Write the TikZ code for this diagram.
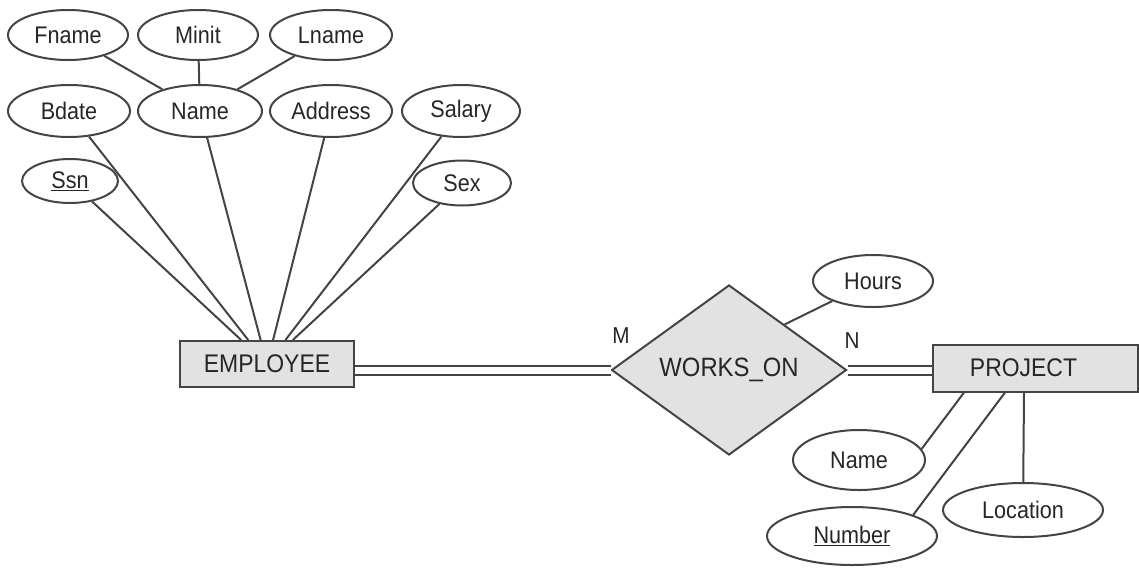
\documentclass[tikz,border=0pt]{standalone}
\usepackage{fontspec}
\setmainfont{Liberation Sans}
\newfontfamily\erfont[FakeStretch=0.9]{Liberation Sans}
\usetikzlibrary{shapes.geometric,calc}
\definecolor{ln}{HTML}{444444}
\definecolor{fillg}{HTML}{E2E2E2}
\definecolor{tx}{HTML}{262626}
\begin{document}
\begin{tikzpicture}[x=1pt,y=-1pt,
  attr/.style={ellipse,draw=ln,line width=2pt,inner sep=0pt,text=tx,font=\erfont\fontsize{24}{28}\selectfont},
  ent/.style={rectangle,draw=ln,fill=fillg,line width=2pt,inner sep=0pt,text=tx,font=\erfont\fontsize{25.5}{29}\selectfont},
  rel/.style={diamond,draw=ln,fill=fillg,line width=2pt,inner sep=0pt,aspect=1.38,text=tx,font=\erfont\fontsize{26.5}{30}\selectfont},
  conn/.style={draw=ln,line width=2pt},
  dbl/.style={draw=ln,line width=2pt,double=white,double distance=7pt},
  card/.style={font=\erfont\fontsize{23}{27}\selectfont,text=tx}]
\useasboundingbox (0,0) rectangle (1139,568);
% attributes of EMPLOYEE
\node[attr,minimum width=120,minimum height=50] (fname) at (68,35) {Fname};
\node[attr,minimum width=120,minimum height=50] (minit) at (198,35) {Minit};
\node[attr,minimum width=122,minimum height=50] (lname) at (331,35) {Lname};
\node[attr,minimum width=122,minimum height=52] (bdate) at (69,111) {Bdate};
\node[attr,minimum width=124,minimum height=52] (ename) at (200,111) {Name};
\node[attr,minimum width=122,minimum height=52] (address) at (331,111) {Address};
\node[attr,minimum width=118,minimum height=52] (salary) at (461,111) {Salary};
\node[attr,minimum width=96,minimum height=44] (ssn) at (70,181) {\underline{Ssn}};
\node[attr,minimum width=98,minimum height=45] (sex) at (462,183) {Sex};
% entities and relationship
\node[ent,minimum width=174,minimum height=46] (emp) at (267,364) {EMPLOYEE};
\node[rel,minimum width=235,minimum height=170] (works) at (729,370) {WORKS\_ON};
\node[ent,minimum width=205,minimum height=47,anchor=west] (proj) at (932,368) {\hspace*{-24pt}PROJECT};
% relationship attribute
\node[attr,minimum width=120,minimum height=52] (hours) at (873,281) {Hours};
% project attributes
\node[attr,minimum width=132,minimum height=60] (pname) at (859,460) {Name};
\node[attr,minimum width=170,minimum height=58] (pnum) at (852,536) {\underline{Number}};
\node[attr,minimum width=160,minimum height=54] (ploc) at (1023,510) {Location};
% cardinality labels
\node[card] (m) at (621,336) {M};
\node[card] (n) at (852,341) {N};
% coordinates
\coordinate (wh) at ($(works.north)!0.47!(works.east)$);
\coordinate (pj1) at ($(proj.south west)+(32,0)$);
\coordinate (pj2) at ($(proj.south west)+(73,0)$);
\coordinate (pj3) at ($(proj.south west)+(92,0)$);
% connectors
\draw[conn] (fname) -- (ename);
\draw[conn] (minit) -- (ename);
\draw[conn] (lname) -- (ename);
\draw[conn] (ssn) -- (emp);
\draw[conn] (bdate) -- (emp);
\draw[conn] (ename) -- (emp);
\draw[conn] (address) -- (emp);
\draw[conn] (salary) -- (emp);
\draw[conn] (sex) -- (emp);
\draw[dbl] (emp.east |- works.west) -- (works.west);
\draw[dbl] (works.east) -- (works.east -| proj.west);
\draw[conn] (hours) -- (wh);
\draw[conn] (pname.10) -- (pj1);
\draw[conn] (pnum.19) -- (pj2);
\draw[conn] (ploc) -- (pj3);
\end{tikzpicture}
\end{document}
